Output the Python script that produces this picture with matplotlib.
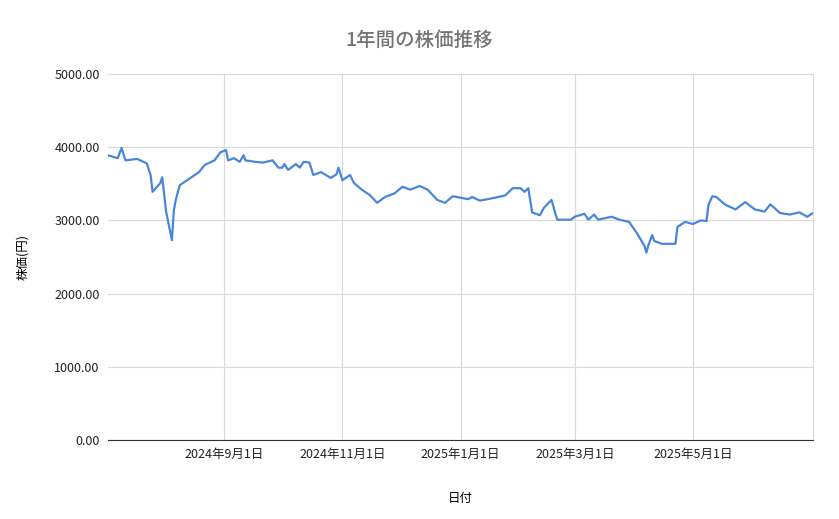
import matplotlib
matplotlib.use("Agg")
import matplotlib.pyplot as plt
import pandas as pd

plt.rcParams['font.family'] = ['Noto Sans CJK JP', 'DejaVu Sans']

dates = ["2024-07-03", "2024-07-08", "2024-07-10", "2024-07-12", "2024-07-18", "2024-07-23",
         "2024-07-25", "2024-07-26", "2024-07-30", "2024-07-31", "2024-08-02", "2024-08-05",
         "2024-08-06", "2024-08-07", "2024-08-09", "2024-08-14", "2024-08-19", "2024-08-22",
         "2024-08-27", "2024-08-30", "2024-09-02", "2024-09-03", "2024-09-06", "2024-09-09",
         "2024-09-11", "2024-09-12", "2024-09-17", "2024-09-21", "2024-09-26", "2024-09-29",
         "2024-10-01", "2024-10-02", "2024-10-04", "2024-10-08", "2024-10-10", "2024-10-12",
         "2024-10-15", "2024-10-17", "2024-10-21", "2024-10-26", "2024-10-29", "2024-10-30",
         "2024-11-01", "2024-11-05", "2024-11-07", "2024-11-11", "2024-11-15", "2024-11-19",
         "2024-11-23", "2024-11-28", "2024-12-02", "2024-12-06", "2024-12-11", "2024-12-15",
         "2024-12-20", "2024-12-24", "2024-12-28", "2025-01-05", "2025-01-07", "2025-01-11",
         "2025-01-17", "2025-01-24", "2025-01-28", "2025-02-01", "2025-02-03", "2025-02-05",
         "2025-02-07", "2025-02-11", "2025-02-13", "2025-02-17", "2025-02-19", "2025-02-20",
         "2025-02-27", "2025-03-01", "2025-03-06", "2025-03-08", "2025-03-11", "2025-03-13",
         "2025-03-20", "2025-03-24", "2025-03-29", "2025-04-02", "2025-04-06", "2025-04-07",
         "2025-04-08", "2025-04-10", "2025-04-11", "2025-04-15", "2025-04-20", "2025-04-22",
         "2025-04-23", "2025-04-27", "2025-05-01", "2025-05-05", "2025-05-08", "2025-05-09",
         "2025-05-11", "2025-05-13", "2025-05-18", "2025-05-23", "2025-05-28", "2025-06-02",
         "2025-06-07", "2025-06-10", "2025-06-15", "2025-06-20", "2025-06-25", "2025-06-29",
         "2025-07-02"]
prices = [3890, 3850, 3990, 3820, 3840, 3780,
          3620, 3390, 3510, 3590, 3120, 2730,
          3140, 3280, 3480, 3570, 3660, 3760,
          3820, 3930, 3960, 3820, 3850, 3800,
          3890, 3820, 3800, 3790, 3820, 3720,
          3720, 3770, 3690, 3770, 3720, 3800,
          3790, 3620, 3660, 3580, 3630, 3720,
          3550, 3620, 3510, 3420, 3350, 3240,
          3320, 3370, 3460, 3420, 3470, 3420,
          3280, 3240, 3330, 3290, 3320, 3270,
          3300, 3340, 3440, 3440, 3390, 3440,
          3110, 3070, 3170, 3280, 3090, 3010,
          3010, 3050, 3090, 3010, 3080, 3010,
          3050, 3010, 2980, 2830, 2650, 2560,
          2660, 2800, 2720, 2680, 2680, 2680,
          2910, 2980, 2950, 3000, 2990, 3210,
          3330, 3320, 3210, 3150, 3250, 3150,
          3120, 3220, 3100, 3080, 3110, 3050,
          3100]
tick_dates = ["2024-09-01", "2024-11-01", "2025-01-01", "2025-03-01", "2025-05-01"]

x = pd.to_datetime(dates)
ticks = pd.to_datetime(tick_dates)

fig = plt.figure(figsize=(8.39, 5.19), dpi=100)
ax = fig.add_axes([108 / 839, 1 - 440 / 519, 705 / 839, 366 / 519])
ax.plot(x, prices, color='#4a86d8', linewidth=1.6)

ax.set_xlim(pd.Timestamp("2024-07-03"), pd.Timestamp("2025-07-02"))
ax.set_ylim(0, 5000)
ax.set_yticks([0, 1000, 2000, 3000, 4000, 5000])
ax.yaxis.set_major_formatter(matplotlib.ticker.FormatStrFormatter('%.2f'))
ax.set_xticks(ticks)
ax.set_xticklabels([f"{d.year}年{d.month}月{d.day}日" for d in ticks])
ax.grid(True, color='#d9d9d9', linewidth=0.8)
ax.set_axisbelow(True)
for s in ['top', 'left']:
    ax.spines[s].set_visible(False)
ax.spines['right'].set_color('#d9d9d9')
ax.spines['bottom'].set_color('#333333')
ax.tick_params(length=0, labelsize=9, colors='#222222', pad=6)

ax.set_xlabel('日付', fontsize=9, labelpad=22)
ax.set_ylabel('株価(円)', fontsize=9, labelpad=18)
fig.text(0.5, 1 - 40 / 519, '1年間の株価推移', ha='center', va='center',
         fontsize=14, color='#757575', fontweight='medium')

fig.savefig('out.png', dpi=100, facecolor='white')
